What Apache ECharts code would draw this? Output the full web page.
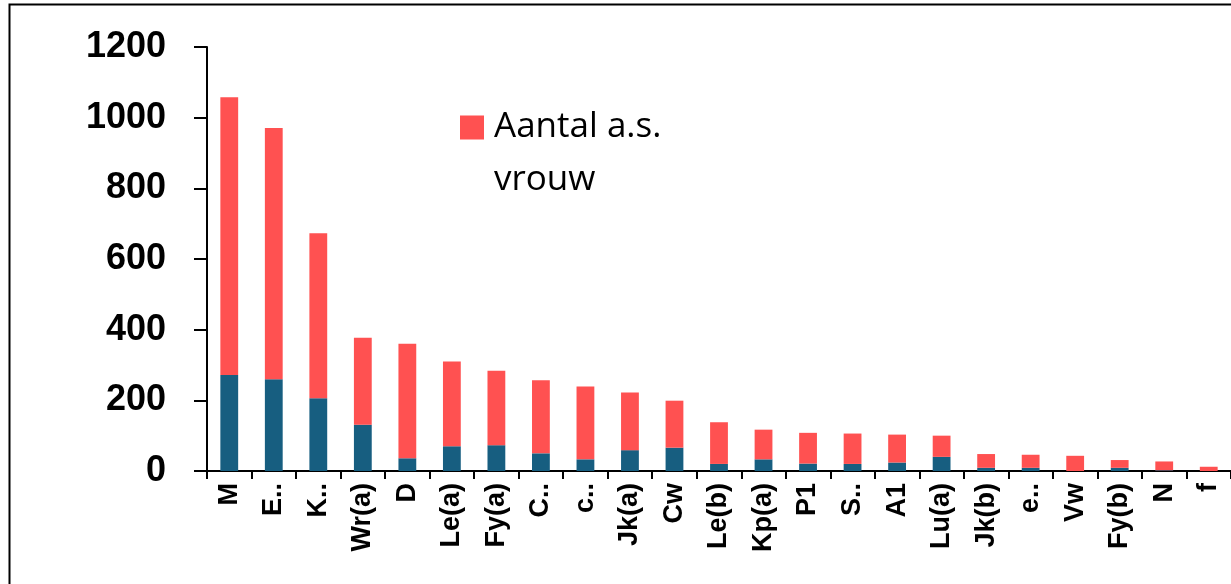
<!DOCTYPE html>
<html>
<head>
<meta charset="utf-8">
<script src="https://cdn.jsdelivr.net/npm/echarts@6/dist/echarts.min.js"></script>
<style>
html,body{margin:0;padding:0;background:#fff;}
#chart{width:1231px;height:584px;}
</style>
</head>
<body>
<div id="chart"></div>
<script>
const categories = ['M','E..','K..','Wr(a)','D','Le(a)','Fy(a)','C..','c..','Jk(a)','Cw','Le(b)','Kp(a)','P1','S..','A1','Lu(a)','Jk(b)','e..','Vw','Fy(b)','N','f'];
const manValues   = [272, 260, 206, 131, 36, 70, 73, 50, 33, 59, 66, 20, 33, 21, 20, 24, 40, 9, 9, 0, 9, 2, 0];
const vrouwValues = [786, 711, 467, 246, 324, 240, 211, 207, 206, 163, 133, 118, 84, 87, 86, 79, 60, 39, 37, 43, 22, 25, 12];
const yTicks = { min: 0, max: 1200, interval: 200 };

const chart = echarts.init(document.getElementById('chart'));
chart.setOption({
  animation: false,
  graphic: [{
    type: 'rect',
    shape: { x: 9.5, y: 4.5, width: 1400, height: 800 },
    style: { fill: 'none', stroke: '#000', lineWidth: 2 },
    silent: true
  }],
  legend: {
    data: [{ name: 'Aantal a.s. vrouw', icon: 'path://M0,0L24,0L24,24L0,24Z M0,76.9L0,77L0.1,77Z' }],
    left: 460,
    top: 101,
    padding: 0,
    itemWidth: 24,
    itemHeight: 77,
    itemGap: 10,
    formatter: function () { return 'Aantal a.s.\nvrouw'; },
    textStyle: {
      fontFamily: 'Open Sans',
      fontSize: 35,
      color: '#000',
      lineHeight: 53,
      padding: [0, 0, 0, 5]
    }
  },
  grid: { left: 207, right: 0, top: 47, bottom: 113, containLabel: false },
  xAxis: {
    type: 'category',
    data: categories,
    axisLine: { show: true, lineStyle: { color: '#000', width: 2 } },
    axisTick: { show: true, length: 8, lineStyle: { color: '#000', width: 2 } },
    axisLabel: {
      interval: 0,
      rotate: 90,
      margin: 12,
      color: '#000',
      fontFamily: 'Liberation Sans',
      fontWeight: 'bold',
      fontSize: 27
    }
  },
  yAxis: {
    type: 'value',
    min: yTicks.min,
    max: yTicks.max,
    interval: yTicks.interval,
    splitLine: { show: false },
    axisLine: { show: true, lineStyle: { color: '#000', width: 2 } },
    axisTick: { show: true, length: 13, lineStyle: { color: '#000', width: 2 } },
    axisLabel: {
      margin: 41,
      color: '#000',
      fontFamily: 'Liberation Sans',
      fontWeight: 'bold',
      fontSize: 36,
      formatter: function (v) { return String(v); }
    }
  },
  series: [
    {
      name: 'Aantal a.s. man',
      type: 'bar',
      stack: 'total',
      barWidth: '40%',
      itemStyle: { color: '#175E80' },
      data: manValues
    },
    {
      name: 'Aantal a.s. vrouw',
      type: 'bar',
      stack: 'total',
      barWidth: '40%',
      itemStyle: { color: '#FF5151' },
      data: vrouwValues
    }
  ]
});
</script>
</body>
</html>
